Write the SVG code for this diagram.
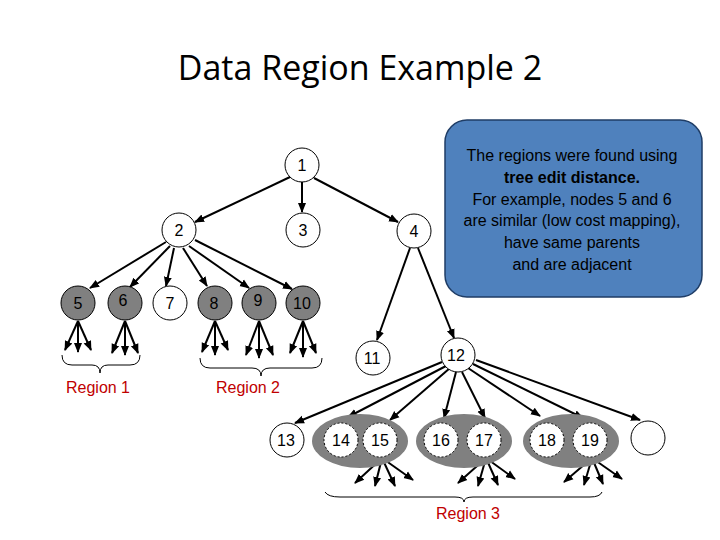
<svg xmlns="http://www.w3.org/2000/svg" width="720" height="540" viewBox="0 0 720 540">
<defs>
<marker id="ah" viewBox="0 0 10 10" refX="9" refY="5" markerWidth="5" markerHeight="5" orient="auto"><path d="M0,1 L10,5 L0,9 z" fill="#000"/></marker>
<style>
.n{fill:#fff;stroke:#000;stroke-width:1}
.g{fill:#808080;stroke:#000;stroke-width:1}
.d{fill:#fff;stroke:#000;stroke-width:1;stroke-dasharray:2 2}
.t{font-family:"Liberation Sans",Arial,sans-serif;font-size:16px;text-anchor:middle;dominant-baseline:central}
.e line{stroke:#000;stroke-width:2;marker-end:url(#ah)}
.b{fill:none;stroke:#000;stroke-width:1}
.r{font-family:"Liberation Sans",Arial,sans-serif;font-size:16px;fill:#c00000;text-anchor:middle}
</style>
</defs>
<rect width="720" height="540" fill="#fff"/>
<text x="360" y="80" font-family="Open Sans, sans-serif" font-size="34" text-anchor="middle">Data Region Example 2</text>
<g class="e" id="connectors">
<line x1="290" y1="177" x2="195" y2="222"/><line x1="302" y1="182" x2="302" y2="212"/><line x1="314" y1="178" x2="398" y2="222"/>
<line x1="166" y1="242" x2="90" y2="288"/><line x1="170" y1="246" x2="130" y2="287"/><line x1="174" y1="248" x2="166" y2="286"/>
<line x1="183" y1="248" x2="207" y2="286"/><line x1="189" y1="246" x2="249" y2="288"/><line x1="195" y1="240" x2="292" y2="289"/>
<line x1="410" y1="248" x2="377" y2="340"/><line x1="418" y1="248" x2="454" y2="338"/>
<g id="leaves1">
<line x1="78" y1="321" x2="65" y2="350"/><line x1="78" y1="321" x2="78" y2="352"/><line x1="78" y1="321" x2="91" y2="350"/>
<line x1="125" y1="321" x2="112" y2="353"/><line x1="125" y1="321" x2="125" y2="355"/><line x1="125" y1="321" x2="138" y2="353"/>
<line x1="215" y1="321" x2="202" y2="352"/><line x1="215" y1="321" x2="215" y2="355"/><line x1="215" y1="321" x2="228" y2="350"/>
<line x1="259" y1="321" x2="246" y2="355"/><line x1="259" y1="321" x2="259" y2="358"/><line x1="259" y1="321" x2="273" y2="355"/>
<line x1="303" y1="321" x2="290" y2="353"/><line x1="303" y1="321" x2="303" y2="357"/><line x1="303" y1="321" x2="316" y2="353"/>
</g>
<line x1="442" y1="362" x2="295" y2="423"/><line x1="446" y1="366" x2="348" y2="417"/><line x1="450" y1="368" x2="390" y2="420"/>
<line x1="456" y1="372" x2="444" y2="418"/><line x1="462" y1="372" x2="485" y2="418"/><line x1="468" y1="368" x2="540" y2="416"/>
<line x1="473" y1="364" x2="583" y2="418"/><line x1="476" y1="360" x2="640" y2="420"/>
<line x1="382" y1="458" x2="355" y2="483"/><line x1="382" y1="458" x2="375" y2="486"/><line x1="382" y1="458" x2="395" y2="486"/><line x1="382" y1="458" x2="413" y2="480"/>
<line x1="486" y1="458" x2="458" y2="483"/><line x1="486" y1="458" x2="478" y2="486"/><line x1="486" y1="458" x2="498" y2="485"/><line x1="486" y1="458" x2="515" y2="479"/>
<line x1="592" y1="458" x2="564" y2="482"/><line x1="592" y1="458" x2="584" y2="485"/><line x1="592" y1="458" x2="603" y2="484"/><line x1="592" y1="458" x2="622" y2="479"/>
</g>
<g id="groups">
<ellipse cx="360" cy="441" rx="48" ry="27" fill="#808080"/>
<ellipse cx="464" cy="441" rx="48" ry="27" fill="#808080"/>
<ellipse cx="571" cy="441" rx="48" ry="27" fill="#808080"/>
</g>
<g id="n1"><circle class="n" cx="302" cy="165" r="17"/><text class="t" x="302" y="165">1</text></g>
<g id="n2"><circle class="n" cx="179" cy="230" r="17"/><text class="t" x="179" y="230">2</text></g>
<g id="n3"><circle class="n" cx="303" cy="230" r="17"/><text class="t" x="303" y="230">3</text></g>
<g id="n4"><circle class="n" cx="414" cy="231" r="17"/><text class="t" x="414" y="231">4</text></g>
<g id="n5"><circle class="g" cx="78" cy="303" r="17"/><text class="t" x="78" y="303">5</text></g>
<g id="n6"><circle class="g" cx="125" cy="303" r="17"/><text class="t" x="123" y="300">6</text></g>
<g id="n7"><circle class="n" cx="170" cy="303" r="17"/><text class="t" x="170" y="303">7</text></g>
<g id="n8"><circle class="g" cx="215" cy="303" r="17"/><text class="t" x="214" y="303">8</text></g>
<g id="n9"><circle class="g" cx="259" cy="303" r="17"/><text class="t" x="258" y="300">9</text></g>
<g id="n10"><circle class="g" cx="303" cy="303" r="17"/><text class="t" x="302" y="303">10</text></g>
<g id="n11"><circle class="n" cx="373" cy="358" r="17"/><text class="t" x="372" y="358">11</text></g>
<g id="n12"><circle class="n" cx="458" cy="355" r="17"/><text class="t" x="456" y="355">12</text></g>
<g id="n13"><circle class="n" cx="287" cy="440" r="17"/><text class="t" x="286" y="440">13</text></g>
<g id="n14"><circle class="d" cx="341" cy="440" r="17"/><text class="t" x="341" y="440">14</text></g>
<g id="n15"><circle class="d" cx="380" cy="440" r="17"/><text class="t" x="380" y="440">15</text></g>
<g id="n16"><circle class="d" cx="441" cy="440" r="17"/><text class="t" x="441" y="440">16</text></g>
<g id="n17"><circle class="d" cx="484" cy="440" r="17"/><text class="t" x="484" y="440">17</text></g>
<g id="n18"><circle class="d" cx="547" cy="440" r="17"/><text class="t" x="547" y="440">18</text></g>
<g id="n19"><circle class="d" cx="590" cy="440" r="17"/><text class="t" x="590" y="440">19</text></g>
<g id="n20"><circle class="n" cx="648" cy="438" r="17"/></g>
<g id="braces">
<path class="b" d="M62,355 Q62,365 72,365 L92,365 Q100,365 100,373 Q100,365 108,365 L130,365 Q140,365 140,355"/>
<path class="b" d="M200,358 Q200,368 210,368 L252,368 Q261,368 261,376 Q261,368 270,368 L312,368 Q322,368 322,358"/>
<path class="b" d="M325,492 Q328,497 340,497 L455,497 Q464,497 464,502 Q464,497 473,497 L590,497 Q600,497 602,492"/>
</g>
<text class="r" x="98" y="393">Region 1</text>
<text class="r" x="248" y="393">Region 2</text>
<text class="r" x="468" y="519">Region 3</text>
<g id="note">
<rect x="445" y="120" width="257" height="177" rx="22" fill="#4f81bd" stroke="#1f3d66" stroke-width="1.5"/>
<g font-family="Liberation Sans, Arial, sans-serif" font-size="16" text-anchor="middle" fill="#000">
<text x="572" y="161">The regions were found using</text>
<text x="572" y="183" font-weight="bold">tree edit distance.</text>
<text x="572" y="205">For example, nodes 5 and 6</text>
<text x="572" y="226">are similar (low cost mapping),</text>
<text x="572" y="248">have same parents</text>
<text x="572" y="270">and are adjacent</text>
</g>
</g>
</svg>
